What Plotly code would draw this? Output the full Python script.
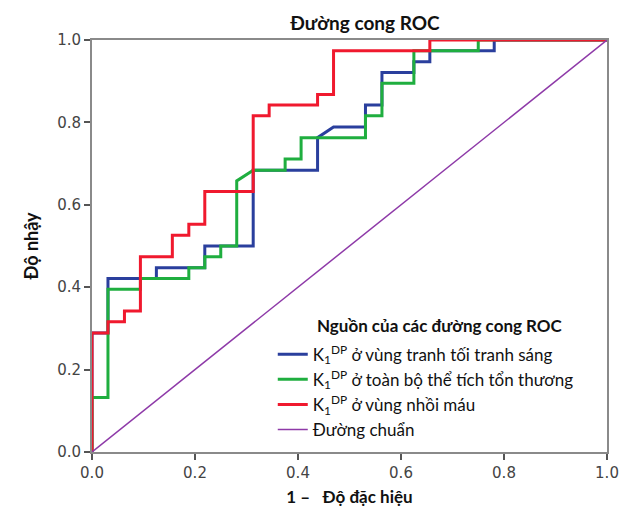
import plotly.graph_objects as go

# ---- data ----
blue_name = "K<sub>1</sub><sup>DP</sup> ở vùng tranh tối tranh sáng"
blue_x = [0, 0, 0.031, 0.031, 0.125, 0.125, 0.219, 0.219, 0.313, 0.313, 0.438, 0.438, 0.469, 0.531,
          0.531, 0.563, 0.563, 0.625, 0.625, 0.656, 0.656, 0.781, 0.781, 1.0]
blue_y = [0, 0.289, 0.289, 0.421, 0.421, 0.447, 0.447, 0.5, 0.5, 0.684, 0.684, 0.763, 0.789, 0.789,
          0.842, 0.842, 0.921, 0.921, 0.947, 0.947, 0.974, 0.974, 1.0, 1.0]

green_name = "K<sub>1</sub><sup>DP</sup> ở toàn bộ thể tích tổn thương"
green_x = [0, 0, 0.031, 0.031, 0.094, 0.094, 0.188, 0.188, 0.219, 0.219, 0.25, 0.25, 0.281, 0.281,
           0.313, 0.375, 0.375, 0.406, 0.406, 0.531, 0.531, 0.563, 0.563, 0.625, 0.625, 0.75, 0.75, 1.0]
green_y = [0, 0.132, 0.132, 0.395, 0.395, 0.421, 0.421, 0.447, 0.447, 0.474, 0.474, 0.5, 0.5, 0.658,
           0.684, 0.684, 0.711, 0.711, 0.763, 0.763, 0.816, 0.816, 0.895, 0.895, 0.974, 0.974, 1.0, 1.0]

red_name = "K<sub>1</sub><sup>DP</sup> ở vùng nhồi máu"
red_x = [0, 0, 0.031, 0.031, 0.063, 0.063, 0.094, 0.094, 0.156, 0.156, 0.188, 0.188, 0.219, 0.219,
         0.313, 0.313, 0.344, 0.344, 0.438, 0.438, 0.469, 0.469, 0.656, 0.656, 1.0]
red_y = [0, 0.289, 0.289, 0.316, 0.316, 0.342, 0.342, 0.474, 0.474, 0.526, 0.526, 0.553, 0.553, 0.632,
         0.632, 0.816, 0.816, 0.842, 0.842, 0.868, 0.868, 0.974, 0.974, 1.0, 1.0]

ref_name = "Đường chuẩn"
ref_x = [0, 1]
ref_y = [0, 1]

tick_vals = [0.0, 0.2, 0.4, 0.6, 0.8, 1.0]
tick_text = ["0.0", "0.2", "0.4", "0.6", "0.8", "1.0"]

title_text = "Đường cong ROC"
x_title = "1 \u2013\u00a0\u00a0\u00a0Độ đặc hiệu"
y_title = "Độ nhậy"
legend_title = "Nguồn của các đường cong ROC"

BLUE = "#2a3f9d"
GREEN = "#1fae3f"
RED = "#f0192e"
PURPLE = "#8e3aa8"

fig = go.Figure()
fig.add_trace(go.Scatter(x=blue_x, y=blue_y, mode="lines", name=blue_name,
                         line=dict(color=BLUE, width=3)))
fig.add_trace(go.Scatter(x=green_x, y=green_y, mode="lines", name=green_name,
                         line=dict(color=GREEN, width=3)))
fig.add_trace(go.Scatter(x=red_x, y=red_y, mode="lines", name=red_name,
                         line=dict(color=RED, width=3)))
fig.add_trace(go.Scatter(x=ref_x, y=ref_y, mode="lines", name=ref_name,
                         line=dict(color=PURPLE, width=1.5)))

axis_common = dict(
    range=[0, 1], tickvals=tick_vals, ticktext=tick_text, automargin=False,
    showgrid=False, zeroline=False, showline=True, mirror=True,
    linecolor="#8a8a8a", linewidth=2, ticks="outside", ticklen=6,
    tickcolor="#555555", tickwidth=1.5,
    tickfont=dict(family="DejaVu Sans", size=15, color="#444444"),
)

fig.update_layout(
    width=634, height=510,
    margin=dict(l=84, r=35, t=32, b=66),
    paper_bgcolor="white", plot_bgcolor="white",
    title=dict(text="<b>" + title_text + "</b>", x=357 / 634, xanchor="center",
               y=1 - 15 / 510, yanchor="middle",
               font=dict(family="Lato", size=19, color="#111111")),
    xaxis=dict(axis_common, title=dict(text="<b>" + x_title + "</b>", standoff=10,
                                       font=dict(family="Lato", size=17, color="#111111"))),
    yaxis=dict(axis_common, title=dict(text="<b>" + y_title + "</b>", standoff=14,
                                       font=dict(family="Lato", size=18, color="#111111"))),
    legend=dict(x=0.351, y=0.28, xanchor="left", yanchor="top",
                bgcolor="rgba(0,0,0,0)", borderwidth=0,
                font=dict(family="Lato", size=17, color="#111111"),
                tracegroupgap=0),
    showlegend=True,
    annotations=[dict(text="<b>" + legend_title + "</b>", xref="paper", yref="paper",
                      x=0.676, y=0.308, xanchor="center", yanchor="middle", showarrow=False,
                      font=dict(family="Lato", size=17, color="#111111"))],
)

fig.write_html("out.html")
